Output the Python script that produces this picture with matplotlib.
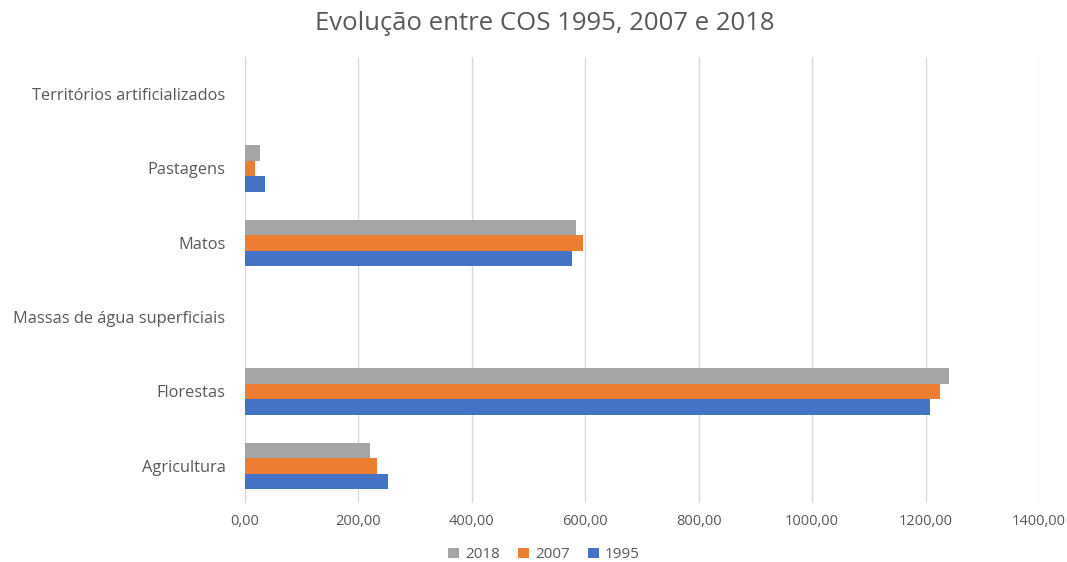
import matplotlib.pyplot as plt
import numpy as np

plt.rcParams['font.family'] = ['Open Sans', 'DejaVu Sans']

categories = ['Agricultura', 'Florestas', 'Massas de água superficiais',
              'Matos', 'Pastagens', 'Territórios artificializados']
v1995 = [253, 1208, 0, 576, 35, 0]
v2007 = [233, 1225, 0, 596, 17, 0]
v2018 = [221, 1242, 0, 584, 26, 0]
ticks = [0, 200, 400, 600, 800, 1000, 1200, 1400]

fig = plt.figure(figsize=(10.67, 5.62), dpi=100)
ax = fig.add_axes([0.2296, 0.105, 0.7442, 0.7936])

y = np.arange(len(categories))
h = 0.207
ax.barh(y - h, v1995, height=h, color='#4472c4', label='1995')
ax.barh(y, v2007, height=h, color='#ed7d31', label='2007')
ax.barh(y + h, v2018, height=h, color='#a5a5a5', label='2018')

ax.set_xlim(0, 1400)
ax.set_ylim(-0.5, len(categories) - 0.5)
ax.set_xticks(ticks)
ax.set_xticklabels([f'{t},00' for t in ticks])
ax.set_yticks(y)
ax.set_yticklabels(categories)
ax.tick_params(length=0, colors='#595959', pad=8)
ax.tick_params(axis='x', labelsize=10.5)
ax.tick_params(axis='y', labelsize=11.8, pad=14)
ax.grid(axis='x', color='#d9d9d9', linewidth=1)
ax.set_axisbelow(True)
for s in ax.spines.values():
    s.set_visible(False)

fig.text(0.511, 0.958, 'Evolução entre COS 1995, 2007 e 2018', fontsize=18.5,
         color='#595959', ha='center', va='center')

handles, labels = ax.get_legend_handles_labels()
fig.legend(handles[::-1], labels[::-1], loc='lower center', ncol=3,
           frameon=False, fontsize=11, labelcolor='#595959',
           bbox_to_anchor=(0.51, -0.025), handlelength=0.7, handleheight=0.7,
           columnspacing=1.2, handletextpad=0.4)

fig.savefig('out.png', dpi=100)
